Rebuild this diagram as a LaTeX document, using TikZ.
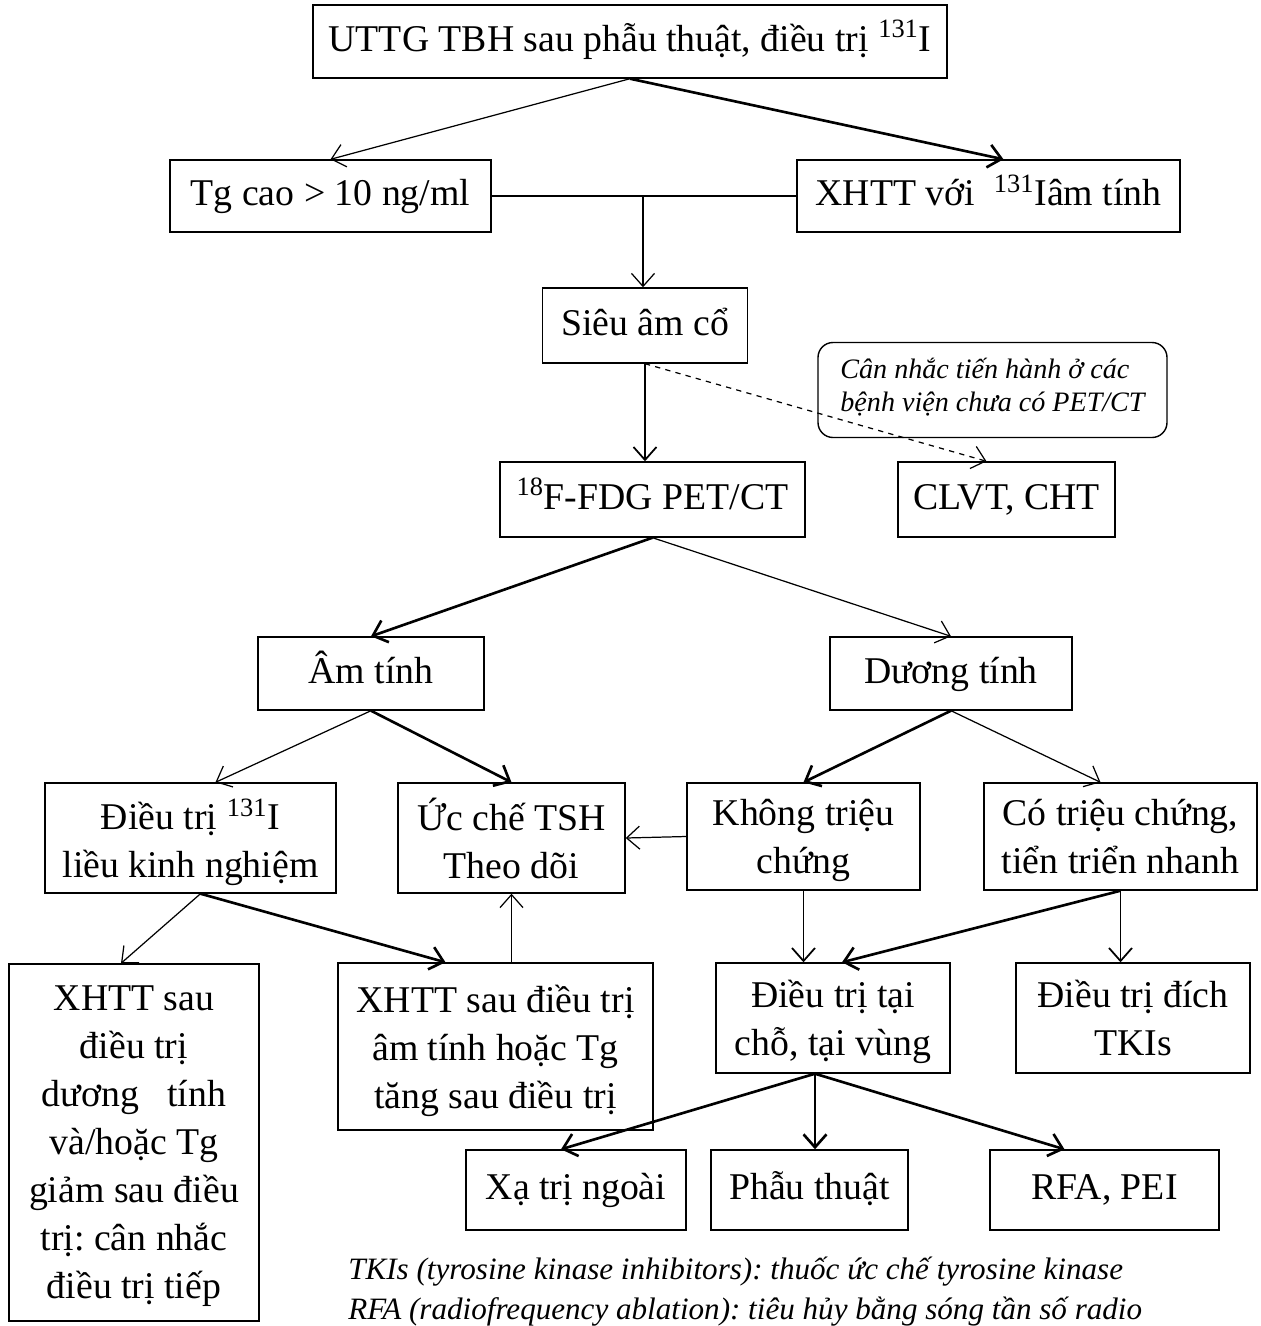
\documentclass[tikz,border=0pt]{standalone}
\usepackage{fontspec}
\setmainfont{Liberation Serif}
\usetikzlibrary{arrows.meta}
\frenchspacing

\begin{document}
\begin{tikzpicture}[x=0.02cm,y=-0.02cm,
    box/.style 2 args={draw,line width=0.8pt,align=center,inner sep=0pt,
      minimum width=#1*0.02cm,minimum height=#2*0.02cm,
      font=\fontsize{21.5}{27.3}\selectfont,
      execute at begin node=\strut,execute at end node=\strut},
    mline/.style={text depth=0pt},
    arr/.style={-{Straight Barb[length=2.6mm,width=4.6mm]},line width=0.7pt},
    harr/.style={arr,line width=1.5pt}]
    \useasboundingbox (0,0) rectangle (1261,1326);
    %\draw[ultra thin,gray!20] (0,0) grid[step=1cm] (1261,1326);
    % rows 1-2
    \node[box={634}{73}] (top) at (630,41.5) {UTTG TBH sau phẫu thuật, điều trị \textsuperscript{131}I};
    \node[box={321}{72}] (tg) at (330.5,196) {Tg cao > 10 ng/ml};
    \node[box={383}{72}] (xhtt) at (988.5,196) {XHTT với\ \ \textsuperscript{131}Iâm tính};
    \coordinate (jn) at (643,196);
    % rows 3-4
    \node[box={205}{75}] (sieu) at (645,325.5) {Siêu âm cổ};
    \node[box={349}{95},align=left,rounded corners=0.3cm,font=\fontsize{16}{19}\selectfont\itshape] (note) at (992.5,390) {Cân nhắc tiến hành ở các\\bệnh viện chưa có PET/CT};
    \node[box={305}{75}] (pet) at (652.5,499.5) {\textsuperscript{18}F-FDG PET/CT};
    \node[box={217}{75}] (clvt) at (1006.5,499.5) {CLVT, CHT};
    % row 5
    \node[box={226}{73}] (am) at (371,673.5) {Âm tính};
    \node[box={242}{73}] (duong) at (951,673.5) {Dương tính};
    % row 6
    \node[box={291}{110},mline] (d131) at (190.5,838) {Điều trị \textsuperscript{131}I\\liều kinh nghiệm};
    \node[box={227}{110},mline] (ucche) at (511.5,838) {Ức chế TSH\\Theo dõi};
    \node[box={233}{107},mline] (khong) at (803.5,836.5) {Không triệu\\chứng};
    \node[box={273}{107},mline] (co) at (1120.5,836.5) {Có triệu chứng,\\tiển triển nhanh};
    % row 7
    \node[box={250}{357},mline] (xpos) at (134,1142.5) {XHTT sau\\điều trị\\dương\hspace{0.75em}tính\\và/hoặc Tg\\giảm sau điều\\trị: cân nhắc\\điều trị tiếp};
    \node[box={315}{167},mline] (xneg) at (495.5,1046.5) {XHTT sau điều trị\\âm tính hoặc Tg\\tăng sau điều trị};
    \node[box={234}{110},mline] (dtai) at (833,1018) {Điều trị tại\\chỗ, tại vùng};
    \node[box={234}{110},mline] (dich) at (1133,1018) {Điều trị đích\\TKIs};
    % row 8
    \node[box={220}{80}] (xatri) at (576,1190) {Xạ trị ngoài};
    \node[box={197}{80}] (phau) at (809.5,1190) {Phẫu thuật};
    \node[box={229}{80}] (rfa) at (1104.5,1190) {RFA, PEI};
    \node[anchor=north west,align=left,inner sep=0pt,font=\fontsize{17.7}{22.7}\selectfont\itshape] (foot) at (348,1257)
      {TKIs (tyrosine kinase inhibitors): thuốc ức chế tyrosine kinase\\RFA (radiofrequency ablation): tiêu hủy bằng sóng tần số radio};
    % connectors
    \draw[arr] (top.south) -- (tg.north);
    \draw[harr] (top.south) -- ([xshift=0.3cm]xhtt.north);
    \draw[line width=1.5pt] (tg.east) -- (xhtt.west);
    \draw[arr] (jn) -- (jn |- sieu.north);
    \draw[arr,line width=1pt] (sieu.south) -- (sieu.south |- pet.north);
    \draw[arr,dashed] (sieu.south) -- ([xshift=-0.4cm]clvt.north);
    \draw[harr] (pet.south) -- (am.north);
    \draw[arr] (pet.south) -- (duong.north);
    \draw[arr] (am.south) -- ([xshift=0.5cm]d131.north);
    \draw[harr] (am.south) -- (ucche.north);
    \draw[harr] (duong.south) -- (khong.north);
    \draw[arr] (duong.south) -- ([xshift=-0.4cm]co.north);
    \draw[arr] (khong.west) -- (ucche.east);
    \draw[arr] ([xshift=0.2cm]d131.south) -- ([xshift=-0.26cm]xpos.north);
    \draw[harr] ([xshift=0.2cm]d131.south) -- ([xshift=-1cm]xneg.north);
    \draw[arr] (ucche.south |- xneg.north) -- (ucche.south);
    \draw[arr,line width=1pt] (khong.south) -- (khong.south |- dtai.north);
    \draw[harr] (co.south) -- ([xshift=0.18cm]dtai.north);
    \draw[arr,line width=1pt] (co.south) -- (co.south |- dich.north);
    \coordinate (ds) at ([xshift=-0.36cm]dtai.south);
    \draw[harr] (ds) -- ([xshift=-0.3cm]xatri.north);
    \draw[harr] (ds) -- (ds |- phau.north);
    \draw[harr] (ds) -- ([xshift=-0.8cm]rfa.north);
\end{tikzpicture}
\end{document}
